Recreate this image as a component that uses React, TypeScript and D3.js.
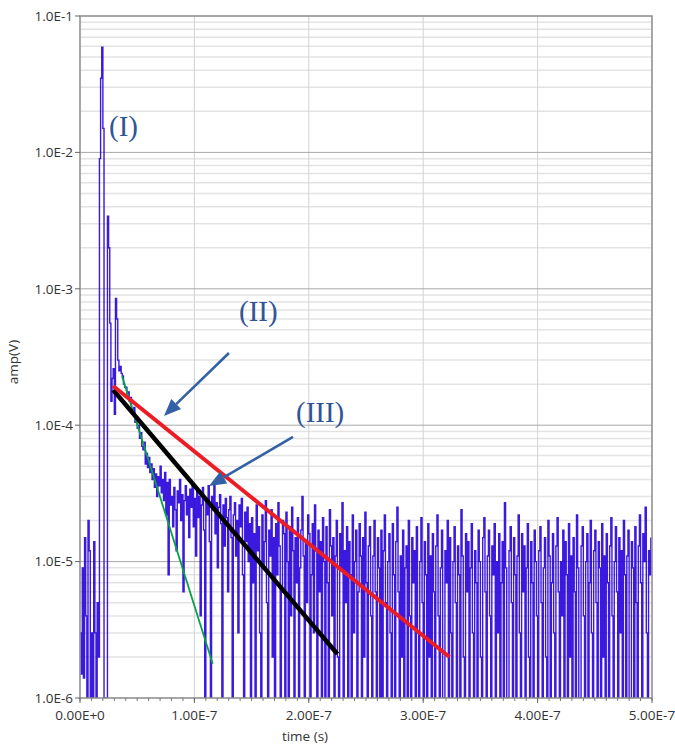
import * as d3 from "d3";

// sample spacing of the scope trace (s)
const sampleStep = 1e-9;

// amplitude samples in µV (0 = below the 1e-6 floor)
const ampRise = [3, 1.5, 9, 1.4, 15, 4, 0, 20, 12, 1, 3, 0, 14, 3, 0, 5, 2, 9000, 35000, 59000,
  15000, 0, 0, 0, 3400, 2000, 560, 150, 220, 260, 120, 850, 600, 300, 250, 270, 240, 230, 200, 190];
const ampDecay = [190, 170, 175, 150, 160, 130, 120, 135, 105, 110, 95, 100, 80, 88, 70, 66, 75, 52, 62, 49,
  58, 45, 52, 40, 48, 35, 44, 30, 42, 36, 50, 32, 40, 28, 45, 22, 38, 8, 40, 26];
const ampPlateau = [30, 18, 35, 24, 12, 33, 27, 40, 20, 31, 6, 28, 36, 22, 30, 15, 34, 25, 37, 18,
  29, 11, 33, 21, 30, 4, 26, 35, 17, 0, 28, 22, 36, 14, 0, 30, 24, 38, 16, 27,
  9, 25, 31, 19, 0, 26, 13, 29, 21, 6, 24, 30, 15, 0, 22, 27, 11, 20, 3, 26,
  18, 29, 8, 0, 23, 14, 25, 10, 19, 0];
const ampTailA = [21, 7, 16, 0, 26, 12, 18, 3, 0, 22, 9, 14, 28, 5, 0, 17, 11, 24, 2, 15,
  0, 19, 8, 27, 13, 0, 6, 20, 16, 1, 23, 10, 0, 18, 4, 25, 12, 0, 15, 7,
  21, 0, 9, 17, 30, 11, 0, 14, 5, 22];
const ampTailB = [16, 0, 8, 19, 3, 26, 12, 0, 17, 6, 14, 0, 21, 10, 1, 18, 7, 0, 24, 13,
  4, 15, 0, 11, 20, 2, 0, 16, 9, 27, 0, 12, 5, 18, 0, 14, 8, 0, 22, 3,
  10, 17, 0, 6, 19, 11, 0, 15, 2, 23];
const ampTailC = [7, 0, 13, 18, 4, 0, 11, 20, 6, 0, 15, 9, 1, 17, 0, 12, 22, 5, 0, 10,
  16, 3, 0, 19, 8, 0, 14, 25, 6, 0, 11, 2, 17, 0, 9, 13, 0, 20, 4, 0,
  15, 7, 12, 0, 18, 3, 0, 10, 21, 5];
const ampTailD = [0, 14, 8, 0, 19, 2, 11, 0, 16, 6, 0, 13, 22, 4, 0, 9, 17, 1, 0, 12,
  7, 20, 0, 15, 3, 0, 10, 18, 5, 0, 13, 8, 0, 24, 11, 2, 0, 16, 6, 14,
  0, 9, 19, 3, 0, 12, 7, 0, 17, 10];
const ampTailE = [2, 0, 15, 21, 6, 0, 11, 17, 4, 0, 13, 8, 19, 0, 10, 3, 16, 0, 7, 14,
  0, 27, 9, 1, 0, 12, 18, 5, 0, 15, 8, 0, 11, 22, 3, 0, 16, 6, 13, 0,
  9, 19, 2, 0, 14, 7, 0, 17, 10, 4];
const ampTailF = [0, 12, 18, 5, 0, 9, 15, 2, 0, 20, 11, 0, 7, 16, 3, 0, 13, 21, 6, 0,
  10, 4, 17, 0, 14, 8, 0, 19, 2, 11, 0, 15, 6, 0, 22, 9, 1, 0, 13, 18,
  4, 0, 10, 16, 0, 7, 20, 3, 0, 12];
const ampTailG = [17, 5, 0, 14, 9, 0, 19, 2, 11, 0, 16, 7, 0, 13, 21, 4, 0, 10, 18, 6,
  0, 15, 3, 12, 0, 20, 8, 0, 11, 17, 1, 0, 14, 9, 0, 18, 5, 0, 13, 22,
  7, 0, 16, 10, 25, 3, 0, 12, 8, 15];

// exponential fits, [time, amp]
const fitRed = [[2.9e-8, 1.94e-4], [3.23e-7, 2.0e-6]];
const fitBlack = [[2.9e-8, 1.81e-4], [2.25e-7, 2.1e-6]];
const fitGreen = [[3.67e-8, 2.29e-4], [1.16e-7, 1.78e-6]];

// annotations
const labels = ["(I)", "(II)", "(III)"];
const labelPos = [[2.54e-8, 1.32e-2], [1.39e-7, 5.8e-4], [1.888e-7, 1.05e-4]];
const arrows = [
  [[1.302e-7, 3.38e-4], [7.34e-8, 1.17e-4]],
  [[1.862e-7, 8.2e-5], [1.128e-7, 3.58e-5]],
];

const xTicks = [0, 1e-7, 2e-7, 3e-7, 4e-7, 5e-7];
const xTickLabels = ["0.00E+0", "1.00E-7", "2.00E-7", "3.00E-7", "4.00E-7", "5.00E-7"];
const yTicks = [1e-1, 1e-2, 1e-3, 1e-4, 1e-5, 1e-6];
const yTickLabels = ["1.0E-1", "1.0E-2", "1.0E-3", "1.0E-4", "1.0E-5", "1.0E-6"];

export default function App() {
  const width = 675, height = 745;
  const left = 80, right = 652, top = 16, bottom = 698;

  const x = d3.scaleLinear().domain([0, 5e-7]).range([left, right]);
  const y = d3.scaleLog().domain([1e-6, 1e-1]).range([bottom, top]).clamp(true);

  const amp = [...ampRise, ...ampDecay, ...ampPlateau, ...ampTailA, ...ampTailB,
    ...ampTailC, ...ampTailD, ...ampTailE, ...ampTailF, ...ampTailG];

  const trace = d3.line<number>()
    .curve(d3.curveStepAfter)
    .x((d, i) => x(i * sampleStep))
    .y(d => y(Math.max(d * 1e-6, 1e-8)));

  const fit = d3.line<number[]>().x(d => x(d[0])).y(d => y(d[1]));

  const minorY = y.ticks().filter(v => !yTicks.some(t => Math.abs(t - v) / t < 1e-6));
  const minorX = x.ticks(50);

  const font = "'Open Sans', 'DejaVu Sans', sans-serif";

  return (
    <svg width={width} height={height} style={{ position: "absolute", left: 0, top: 0, background: "#fff" }}>
      <defs>
        <clipPath id="plot">
          <rect x={left} y={top} width={right - left} height={bottom - top} />
        </clipPath>
      </defs>

      {/* grid */}
      <g>
        {minorY.map((v, i) => (
          <line key={"my" + i} x1={left} x2={right} y1={y(v)} y2={y(v)} stroke="#e3e3e3" strokeWidth={1.5} />
        ))}
        {xTicks.slice(1, -1).map((v, i) => (
          <line key={"gx" + i} x1={x(v)} x2={x(v)} y1={top} y2={bottom} stroke="#d2d2d2" strokeWidth={1} />
        ))}
        {yTicks.slice(1, -1).map((v, i) => (
          <line key={"gy" + i} x1={left} x2={right} y1={y(v)} y2={y(v)} stroke="#a8a8a8" strokeWidth={1} />
        ))}
      </g>

      {/* trace */}
      <g clipPath="url(#plot)">
        <path d={trace(amp) || ""} fill="none" stroke="#2600da" strokeWidth={1.4} strokeOpacity={0.9} />
      </g>

      {/* fits */}
      <path d={fit(fitGreen) || ""} stroke="#0aa04a" strokeWidth={1.8} fill="none" />
      <path d={fit(fitBlack) || ""} stroke="#000" strokeWidth={4.5} fill="none" />
      <path d={fit(fitRed) || ""} stroke="#ec1c24" strokeWidth={4} fill="none" />

      {/* arrows */}
      {arrows.map((a, i) => {
        const x0 = x(a[0][0]), y0 = y(a[0][1]), x1 = x(a[1][0]), y1 = y(a[1][1]);
        const ang = Math.atan2(y1 - y0, x1 - x0);
        const len = 17, hw = 7;
        const bx = x1 - len * Math.cos(ang), by = y1 - len * Math.sin(ang);
        const px = -Math.sin(ang) * hw, py = Math.cos(ang) * hw;
        return (
          <g key={"a" + i}>
            <line x1={x0} y1={y0} x2={bx} y2={by} stroke="#3461a6" strokeWidth={2.6} />
            <path d={`M${x1},${y1}L${bx + px},${by + py}L${bx - px},${by - py}Z`} fill="#3461a6" />
          </g>
        );
      })}
      {labels.map((l, i) => (
        <text key={"l" + i} x={x(labelPos[i][0])} y={y(labelPos[i][1])} fontFamily="'Liberation Serif', serif"
          fontSize={29} fill="#2f5597">{l}</text>
      ))}

      {/* frame */}
      <rect x={left} y={top} width={right - left} height={bottom - top} fill="none" stroke="#8a8a8a" strokeWidth={1.5} />

      {/* x axis */}
      <g>
        {minorX.map((v, i) => (
          <line key={"mx" + i} x1={x(v)} x2={x(v)} y1={bottom} y2={bottom + 3} stroke="#777" strokeWidth={1} />
        ))}
        {xTicks.map((v, i) => (
          <g key={"xt" + i}>
            <line x1={x(v)} x2={x(v)} y1={bottom} y2={bottom + 5} stroke="#666" strokeWidth={1} />
            <text x={x(v)} y={720} textAnchor="middle" fontFamily={font} fontSize={13.5} fill="#333">{xTickLabels[i]}</text>
          </g>
        ))}
        <text x={(left + right) / 2 - 61} y={741} textAnchor="middle" fontFamily={font} fontSize={13.5} fill="#333">time (s)</text>
      </g>

      {/* y axis */}
      <g>
        {yTicks.map((v, i) => (
          <g key={"yt" + i}>
            <line x1={left - 5} x2={left} y1={y(v)} y2={y(v)} stroke="#666" strokeWidth={1} />
            <text x={left - 7} y={y(v)} dy="0.35em" textAnchor="end" fontFamily={font} fontSize={13.5} fill="#333">{yTickLabels[i]}</text>
          </g>
        ))}
        <text transform={`translate(18,362) rotate(-90)`} textAnchor="middle" fontFamily={font} fontSize={13.5} fill="#333">amp(V)</text>
      </g>
    </svg>
  );
}
